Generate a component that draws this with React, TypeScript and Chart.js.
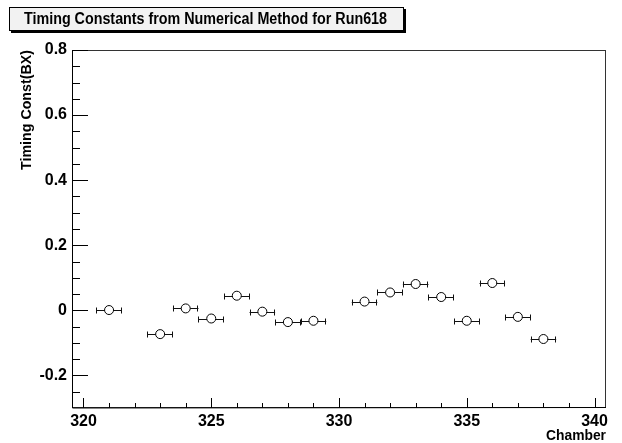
import { useEffect, useRef } from 'react';
import { Chart, registerables } from 'chart.js';

Chart.register(...registerables);

const chartTitle = 'Timing Constants from Numerical Method for Run618';
const xAxisTitle = 'Chamber';
const yAxisTitle = 'Timing Const(BX)';

const chambers = [321, 323, 324, 325, 326, 327, 328, 329, 331, 332, 333, 334, 335, 336, 337, 338];
const timingConst = [0.001, -0.073, 0.006, -0.025, 0.045, -0.004, -0.036, -0.032, 0.027, 0.055, 0.081, 0.041, -0.032, 0.084, -0.02, -0.088];
const chamberErr = [0.5, 0.5, 0.5, 0.5, 0.5, 0.5, 0.5, 0.5, 0.5, 0.5, 0.5, 0.5, 0.5, 0.5, 0.5, 0.5];

const xMajorTicks = [320, 325, 330, 335, 340];
const xMinorTicks = [321, 322, 323, 324, 326, 327, 328, 329, 331, 332, 333, 334, 336, 337, 338, 339];
const yMajorTicks = [-0.2, 0, 0.2, 0.4, 0.6, 0.8];
const yMinorTicks = [-0.25, -0.15, -0.1, -0.05, 0.05, 0.1, 0.15, 0.25, 0.3, 0.35, 0.45, 0.5, 0.55, 0.65, 0.7, 0.75];

const X_MIN = 319.55;
const X_MAX = 340.45;
const Y_MIN = -0.3;
const Y_MAX = 0.8;

const FONT = '"Liberation Sans", Arial, Helvetica, sans-serif';

const rootPlugin = {
  id: 'rootStyle',
  beforeDatasetsDraw(chart: any) {
    const ctx = chart.ctx;
    const xs = chart.scales.x;
    const ys = chart.scales.y;
    ctx.save();
    ctx.strokeStyle = '#111';
    ctx.lineWidth = 1;
    chambers.forEach((c, i) => {
      const y = Math.round(ys.getPixelForValue(timingConst[i])) + 0.5;
      const x1 = xs.getPixelForValue(c - chamberErr[i]);
      const x2 = xs.getPixelForValue(c + chamberErr[i]);
      ctx.beginPath();
      ctx.moveTo(x1, y);
      ctx.lineTo(x2, y);
      ctx.moveTo(Math.round(x1) + 0.5, y - 3);
      ctx.lineTo(Math.round(x1) + 0.5, y + 3);
      ctx.moveTo(Math.round(x2) - 0.5, y - 3);
      ctx.lineTo(Math.round(x2) - 0.5, y + 3);
      ctx.stroke();
    });
    ctx.restore();
  },
  afterDraw(chart: any) {
    const ctx = chart.ctx;
    const { left, right, top, bottom } = chart.chartArea;
    const xs = chart.scales.x;
    const ys = chart.scales.y;
    ctx.save();
    // frame
    ctx.lineWidth = 1;
    ctx.strokeStyle = '#333';
    ctx.strokeRect(left + 0.5, top + 0.5, right - left - 1, bottom - top - 1);
    ctx.strokeStyle = '#000';
    ctx.beginPath();
    ctx.moveTo(left + 0.5, top);
    ctx.lineTo(left + 0.5, bottom);
    ctx.lineTo(right, bottom - 0.5);
    ctx.stroke();
    // ticks
    ctx.beginPath();
    yMajorTicks.forEach((v) => {
      const y = Math.round(ys.getPixelForValue(v)) + 0.5;
      ctx.moveTo(left, y);
      ctx.lineTo(left + 16, y);
    });
    yMinorTicks.forEach((v) => {
      const y = Math.round(ys.getPixelForValue(v)) + 0.5;
      ctx.moveTo(left, y);
      ctx.lineTo(left + 8, y);
    });
    xMajorTicks.forEach((v) => {
      const x = Math.round(xs.getPixelForValue(v)) + 0.5;
      ctx.moveTo(x, bottom);
      ctx.lineTo(x, bottom - 10);
    });
    xMinorTicks.forEach((v) => {
      const x = Math.round(xs.getPixelForValue(v)) + 0.5;
      ctx.moveTo(x, bottom);
      ctx.lineTo(x, bottom - 5);
    });
    ctx.stroke();

    // title box
    const bx = 9, by = 7, bw = 395, bh = 24;
    ctx.fillStyle = '#000';
    ctx.fillRect(bx + 2, by + 2, bw, bh);
    ctx.fillStyle = '#f2f2f2';
    ctx.fillRect(bx, by, bw, bh);
    ctx.strokeStyle = '#000';
    ctx.strokeRect(bx + 0.5, by + 0.5, bw - 1, bh - 1);
    ctx.fillStyle = '#000';
    ctx.font = `bold 16px ${FONT}`;
    ctx.textAlign = 'center';
    ctx.textBaseline = 'middle';
    const tw = ctx.measureText(chartTitle).width;
    const sx = Math.min(1, 363 / tw);
    ctx.save();
    ctx.translate(bx + bw / 2 - 1, by + bh / 2 + 1);
    ctx.scale(sx, 1);
    ctx.fillText(chartTitle, 0, 0);
    ctx.restore();

    // axis titles
    ctx.font = `bold 15px ${FONT}`;
    ctx.textAlign = 'right';
    ctx.textBaseline = 'middle';
    const cw = ctx.measureText(xAxisTitle).width;
    ctx.save();
    ctx.translate(right, 436);
    ctx.scale(Math.min(1, 60 / cw), 1);
    ctx.fillText(xAxisTitle, 0, 0);
    ctx.restore();
    ctx.translate(27, top);
    ctx.rotate(-Math.PI / 2);
    const yw = ctx.measureText(yAxisTitle).width;
    ctx.scale(Math.min(1, 120 / yw), 1);
    ctx.fillText(yAxisTitle, 0, 0);
    ctx.restore();
  },
};

export default function App() {
  const ref = useRef<HTMLCanvasElement>(null);
  useEffect(() => {
    document.body.style.margin = '0';
    const canvas = ref.current!;
    const chart = new Chart(canvas, {
      type: 'scatter',
      data: {
        datasets: [
          {
            data: chambers.map((c, i) => ({ x: c, y: timingConst[i] })),
            pointStyle: 'circle',
            pointRadius: 4.5,
            pointHoverRadius: 4.5,
            backgroundColor: '#fff',
            borderColor: '#000',
            borderWidth: 1,
            showLine: false,
          },
        ],
      },
      options: {
        responsive: false,
        animation: false,
        events: [],
        layout: { padding: { left: 0, top: 50, right: 16, bottom: 0 } },
        plugins: { legend: { display: false }, tooltip: { enabled: false }, title: { display: false } },
        scales: {
          x: {
            type: 'linear',
            min: X_MIN,
            max: X_MAX,
            border: { display: false },
            grid: { display: false, drawTicks: false },
            afterBuildTicks: (s: any) => {
              s.ticks = xMajorTicks.map((v) => ({ value: v }));
            },
            afterFit: (s: any) => {
              s.height = 35;
            },
            ticks: {
              padding: 4,
              maxRotation: 0,
              autoSkip: false,
              color: '#000',
              font: { family: FONT, size: 16, weight: 'bold' },
              callback: (v: any) => String(v),
            },
          },
          y: {
            type: 'linear',
            min: Y_MIN,
            max: Y_MAX,
            border: { display: false },
            grid: { display: false, drawTicks: false },
            afterBuildTicks: (s: any) => {
              s.ticks = yMajorTicks.map((v) => ({ value: v }));
            },
            afterFit: (s: any) => {
              s.width = 72;
            },
            ticks: {
              padding: 5,
              autoSkip: false,
              color: '#000',
              font: { family: FONT, size: 16, weight: 'bold' },
              callback: (v: any) => String(Number(Number(v).toFixed(1))),
            },
          },
        },
      },
      plugins: [rootPlugin],
    });
    return () => chart.destroy();
  }, []);
  return <canvas ref={ref} width={622} height={443} style={{ display: 'block' }} />;
}
